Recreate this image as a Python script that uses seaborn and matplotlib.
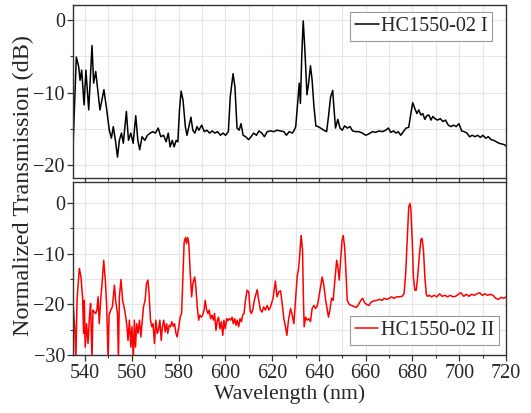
import numpy as np
import pandas as pd
import matplotlib
matplotlib.use("Agg")
import matplotlib.pyplot as plt
import seaborn as sns
from matplotlib.ticker import MultipleLocator

# HC1550-02 I (top panel)
wl_1 = [535.0, 536.3, 537.3, 537.9, 538.6, 539.6, 540.4, 541.6, 543.0, 543.7,
        544.6, 545.6, 546.4, 548.1, 549.3, 550.4, 551.3, 552.1, 553.0, 553.9,
        554.7, 555.6, 556.4, 557.7, 558.6, 559.6, 560.6, 561.7, 562.6, 563.4,
        564.4, 565.6, 566.7, 567.9, 569.0, 570.1, 571.3, 572.4, 573.6, 574.7,
        575.6, 576.4, 577.3, 578.1, 579.0, 579.7, 580.4, 581.1, 581.9, 582.9,
        583.6, 584.4, 585.3, 586.1, 587.0, 587.9, 588.7, 589.9, 591.0, 592.1,
        593.3, 594.4, 595.6, 596.7, 597.9, 599.0, 600.1, 601.3, 602.1, 603.3,
        604.1, 605.0, 605.9, 606.7, 607.6, 608.7, 609.9, 611.0, 612.1, 613.3,
        614.4, 615.6, 616.7, 617.9, 619.3, 620.7, 622.1, 623.6, 625.0, 626.1,
        627.3, 628.6, 629.3, 630.1, 631.0, 631.6, 632.1, 632.7, 633.3, 634.0,
        634.9, 635.6, 636.4, 637.1, 637.9, 638.7, 639.6, 640.7, 642.1, 643.3,
        644.1, 645.0, 645.9, 646.4, 647.1, 648.1, 649.0, 650.0, 651.0, 652.1,
        653.3, 654.4, 655.7, 657.1, 658.6, 660.0, 661.4, 662.9, 664.3, 665.7,
        667.1, 668.6, 669.7, 670.7, 671.9, 672.9, 673.9, 675.0, 676.1, 677.3,
        678.4, 679.3, 680.1, 681.0, 681.9, 682.7, 683.6, 684.4, 685.3, 686.1,
        687.0, 687.9, 688.7, 689.6, 690.7, 691.9, 693.0, 694.1, 695.3, 696.4,
        697.6, 698.7, 699.9, 701.0, 702.1, 703.3, 704.4, 705.6, 706.7, 707.9,
        709.0, 710.1, 711.3, 712.4, 713.6, 714.7, 715.9, 717.0, 718.1, 719.3,
        720.4]
tr_1 = [-16.5, -5.1, -6.4, -8.3, -6.9, -11.7, -6.9, -12.4, -3.5, -8.7,
        -7.1, -10.1, -12.4, -9.6, -12.4, -15.2, -16.3, -14.7, -16.6, -18.9,
        -16.6, -15.6, -17.0, -12.6, -16.6, -15.6, -17.0, -13.2, -16.6, -17.9,
        -16.1, -16.6, -15.9, -15.6, -15.4, -15.6, -14.9, -16.1, -15.9, -16.8,
        -15.6, -17.5, -16.6, -17.5, -16.6, -16.8, -12.4, -9.8, -11.0, -14.7,
        -15.9, -14.7, -13.4, -15.2, -15.6, -14.7, -15.2, -14.5, -15.4, -15.2,
        -15.6, -15.3, -15.6, -15.4, -15.9, -15.6, -15.9, -15.4, -10.6, -7.4,
        -9.2, -14.9, -15.2, -14.3, -15.9, -16.1, -16.5, -16.1, -15.6, -15.9,
        -15.3, -15.6, -16.1, -15.4, -15.3, -15.4, -15.2, -15.3, -15.4, -15.9,
        -15.4, -15.6, -15.3, -14.7, -11.0, -8.7, -11.5, -4.6, -0.1, -4.1,
        -10.3, -8.7, -6.3, -8.3, -12.0, -14.6, -14.7, -14.9, -15.2, -15.4,
        -13.3, -10.6, -9.7, -12.0, -14.9, -13.7, -14.9, -15.2, -14.6, -14.9,
        -14.7, -15.3, -15.4, -15.4, -15.6, -15.9, -15.7, -15.4, -15.5, -15.3,
        -15.4, -15.2, -14.9, -15.5, -15.3, -15.6, -15.4, -15.9, -15.4, -14.9,
        -14.8, -12.9, -11.4, -12.2, -12.9, -12.4, -13.1, -12.9, -13.7, -13.2,
        -13.1, -13.8, -13.3, -13.6, -13.8, -13.6, -14.0, -13.8, -14.5, -14.7,
        -14.5, -14.7, -14.3, -15.3, -15.4, -15.6, -16.1, -15.9, -16.1, -15.9,
        -16.2, -15.9, -16.3, -16.1, -16.5, -16.6, -16.8, -17.0, -17.1, -17.2,
        -17.5]

# HC1550-02 II (bottom panel)
wl_2 = [535.0, 535.6, 536.1, 536.6, 537.0, 537.6, 538.3, 539.0, 539.4, 539.7,
        540.1, 540.7, 541.3, 541.9, 542.4, 543.0, 543.4, 544.0, 544.6, 545.1,
        545.6, 546.1, 546.7, 547.3, 548.0, 548.7, 549.3, 549.9, 550.3, 551.0,
        551.7, 552.1, 552.6, 553.1, 553.9, 554.3, 554.7, 555.4, 556.1, 556.7,
        557.3, 557.9, 558.4, 559.0, 559.6, 560.1, 560.7, 561.1, 561.6, 562.1,
        562.7, 563.3, 563.9, 564.4, 565.0, 565.7, 566.3, 566.9, 567.4, 568.0,
        568.6, 569.1, 569.7, 570.3, 570.9, 571.4, 572.0, 572.6, 573.1, 573.7,
        574.3, 574.9, 575.4, 576.0, 576.6, 577.1, 577.7, 578.3, 578.9, 579.4,
        580.1, 580.7, 581.3, 581.9, 582.4, 583.0, 583.4, 583.9, 584.4, 585.0,
        585.6, 586.1, 586.9, 587.4, 588.0, 588.6, 589.1, 589.7, 590.3, 590.9,
        591.4, 592.0, 592.6, 593.1, 593.7, 594.3, 594.9, 595.4, 596.0, 596.6,
        597.1, 597.7, 598.3, 598.9, 599.4, 600.0, 600.6, 601.1, 601.7, 602.3,
        602.9, 603.4, 604.0, 604.6, 605.1, 605.7, 606.3, 606.9, 607.4, 608.0,
        608.6, 609.3, 610.0, 610.6, 611.1, 611.7, 612.4, 613.6, 614.3, 615.0,
        615.7, 616.4, 617.1, 617.9, 618.6, 619.3, 620.4, 621.4, 622.1, 622.9,
        623.6, 624.3, 625.0, 625.7, 626.3, 627.0, 627.9, 628.6, 629.3, 630.0,
        630.7, 631.4, 632.0, 632.4, 633.0, 633.4, 633.7, 634.3, 635.0, 635.7,
        636.4, 637.1, 637.9, 638.6, 639.3, 640.0, 640.7, 641.4, 642.1, 642.9,
        643.6, 644.1, 644.7, 645.4, 646.1, 646.7, 647.6, 648.1, 648.7, 649.3,
        649.9, 650.4, 651.0, 651.6, 652.1, 653.0, 653.9, 655.0, 655.9, 656.7,
        657.9, 658.7, 659.6, 660.4, 661.4, 662.4, 663.6, 664.7, 665.9, 667.0,
        667.9, 669.0, 670.0, 671.0, 672.1, 673.3, 674.4, 675.6, 676.4, 677.1,
        677.9, 678.4, 678.9, 679.3, 679.9, 680.4, 681.0, 681.6, 682.1, 682.9,
        683.6, 684.1, 684.7, 685.3, 685.9, 686.4, 687.3, 688.1, 689.3, 690.4,
        691.6, 692.7, 693.9, 695.0, 696.1, 697.3, 698.4, 699.6, 700.7, 701.9,
        703.0, 704.1, 705.3, 706.4, 707.6, 708.7, 709.9, 711.0, 712.1, 713.3,
        714.4, 715.6, 716.7, 717.9, 719.0, 720.1]
tr_2 = [-20.5, -24.4, -31.0, -19.2, -16.5, -12.9, -14.6, -18.8, -25.7, -19.2,
        -28.4, -23.8, -27.7, -22.5, -19.8, -31.0, -21.1, -21.5, -21.8, -21.1,
        -18.5, -23.8, -19.2, -15.9, -11.3, -15.2, -20.5, -31.0, -22.1, -21.1,
        -20.5, -18.5, -16.2, -19.2, -21.8, -31.0, -18.5, -15.1, -19.2, -20.5,
        -22.1, -24.1, -27.1, -23.1, -28.4, -24.4, -31.0, -23.1, -28.4, -23.8,
        -25.7, -23.1, -26.4, -23.8, -20.5, -19.2, -15.9, -15.2, -17.9, -23.1,
        -24.4, -23.8, -27.7, -23.1, -25.7, -25.1, -23.1, -27.1, -24.4, -23.1,
        -25.4, -23.8, -25.7, -24.1, -24.4, -23.4, -24.3, -23.8, -25.7, -26.4,
        -24.4, -22.5, -21.8, -13.9, -7.7, -6.8, -8.0, -6.8, -8.0, -13.9,
        -18.5, -15.9, -14.6, -16.5, -20.5, -23.1, -22.1, -22.5, -22.1, -21.1,
        -19.2, -21.1, -21.8, -21.1, -22.8, -22.1, -23.1, -21.8, -25.1, -23.1,
        -22.5, -24.8, -23.4, -26.1, -23.1, -24.8, -22.8, -23.2, -22.8, -23.1,
        -22.5, -23.8, -22.8, -24.1, -23.1, -24.4, -22.8, -23.4, -22.1, -21.8,
        -19.2, -17.2, -17.5, -21.1, -21.8, -21.1, -19.2, -17.1, -19.2, -21.1,
        -21.5, -20.5, -21.1, -20.2, -21.1, -20.5, -18.8, -15.4, -18.5, -17.5,
        -17.3, -19.8, -22.8, -24.4, -26.1, -23.1, -20.8, -22.1, -23.8, -19.2,
        -14.6, -12.6, -8.7, -6.4, -9.3, -19.2, -24.4, -22.5, -23.1, -22.8,
        -23.4, -20.8, -20.2, -20.8, -20.3, -18.5, -16.5, -14.6, -16.2, -19.2,
        -21.1, -22.5, -21.1, -18.8, -19.2, -15.9, -11.3, -12.6, -15.2, -11.0,
        -7.4, -6.4, -8.7, -13.9, -19.2, -20.0, -20.2, -20.4, -20.6, -20.2,
        -19.2, -18.8, -19.7, -20.0, -20.2, -19.5, -19.3, -19.2, -19.0, -19.2,
        -18.8, -19.0, -18.8, -18.5, -18.8, -18.5, -18.5, -18.4, -17.9, -13.9,
        -6.0, -0.8, -0.1, -1.1, -7.4, -14.6, -17.2, -17.2, -15.2, -10.6,
        -7.2, -7.0, -9.3, -14.6, -18.0, -18.4, -18.2, -18.5, -18.2, -18.5,
        -17.9, -18.4, -18.2, -18.5, -18.2, -18.5, -18.4, -18.0, -17.7, -18.4,
        -18.0, -18.4, -18.0, -18.2, -17.9, -17.7, -18.2, -17.9, -18.2, -18.0,
        -18.2, -18.8, -19.0, -18.6, -18.8, -18.5]

df1 = pd.DataFrame({"Wavelength": wl_1, "Transmission": tr_1})
df2 = pd.DataFrame({"Wavelength": wl_2, "Transmission": tr_2})

sns.set_theme(style="whitegrid")
plt.rcParams['font.family'] = ['Liberation Serif', 'DejaVu Serif']

fig, (ax1, ax2) = plt.subplots(2, 1, sharex=True, figsize=(5.31, 4.13), dpi=100)
fig.subplots_adjust(left=0.138, right=0.953, top=0.988, bottom=0.140, hspace=0.024)

sns.lineplot(data=df1, x="Wavelength", y="Transmission", ax=ax1, color="black",
             linewidth=1.1, label="HC1550-02 I", sort=False)
sns.lineplot(data=df2, x="Wavelength", y="Transmission", ax=ax2, color="#ff0000",
             linewidth=1.1, label="HC1550-02 II", sort=False)

ax1.set_ylim(-21.8, 2.1)
ax2.set_ylim(-30, 4.1)
ax2.set_xlim(535, 720)

for ax in (ax1, ax2):
    ax.xaxis.set_major_locator(MultipleLocator(20))
    ax.xaxis.set_minor_locator(MultipleLocator(10))
    ax.yaxis.set_major_locator(MultipleLocator(10))
    ax.yaxis.set_minor_locator(MultipleLocator(5))
    ax.grid(True, which="both", color="#e6e6e6", linewidth=0.8)
    ax.set_facecolor("white")
    for s in ax.spines.values():
        s.set_visible(True)
        s.set_color("#333333")
        s.set_linewidth(1.0)
    ax.tick_params(which="major", direction="out", length=4, width=0.9,
                   color="#333333", labelsize=14.5, pad=2,
                   bottom=True, left=True)
    ax.tick_params(which="minor", direction="out", length=2.5, width=0.8,
                   color="#333333", bottom=True, left=True)
    ax.set_xlabel("")
    ax.set_ylabel("")
    ax.set_axisbelow(True)

ax1.tick_params(labelbottom=False)

leg1 = ax1.legend(loc="upper right", bbox_to_anchor=(0.968, 0.96), fontsize=14.5,
                  frameon=True, fancybox=False, edgecolor="#999999",
                  handlelength=1.15, handletextpad=0.1, borderpad=0.25,
                  borderaxespad=0)
leg2 = ax2.legend(loc="lower right", bbox_to_anchor=(0.984, 0.058), fontsize=14.5,
                  frameon=True, fancybox=False, edgecolor="#999999",
                  handlelength=1.15, handletextpad=0.15, borderpad=0.25,
                  borderaxespad=0)
for leg in (leg1, leg2):
    leg.get_frame().set_linewidth(0.8)
    leg.get_frame().set_alpha(1)

fig.text(0.045, 0.55, "Normalized Transmission (dB)", rotation=90,
         ha="center", va="center", fontsize=17.5)
fig.text(0.545, 0.046, "Wavelength (nm)", ha="center", va="center", fontsize=15.7)

plt.savefig("out.png", dpi=100)
